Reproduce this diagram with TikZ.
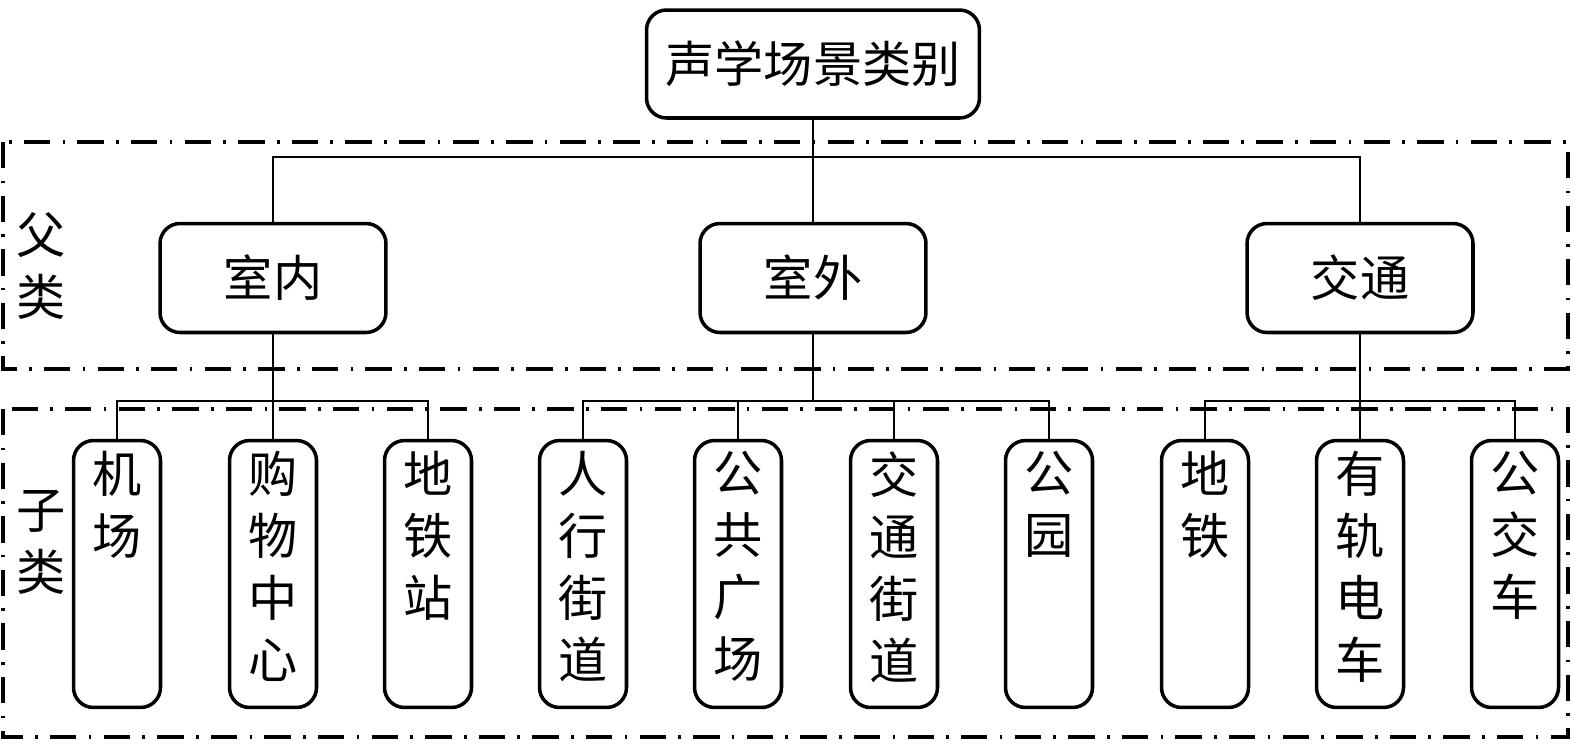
\documentclass[tikz,border=0pt]{standalone}
\usepackage{fontspec}
\newfontfamily\cjk{Noto Sans CJK SC}
\newcommand{\vtxt}[1]{\parbox[c][4.9cm][t]{1.5cm}{\centering #1}}
\begin{document}
\begin{tikzpicture}[x=0.02cm,y=-0.02cm,
    box/.style={draw,line width=2pt,rounded corners=0.4cm,inner sep=0pt,
      font=\cjk\fontsize{28}{35.3}\selectfont},
    topbox/.style={box,minimum width=6.66cm,minimum height=2.16cm},
    parent/.style={box,minimum width=4.52cm,minimum height=2.18cm},
    leaf/.style={box,minimum width=1.74cm,inner xsep=0pt,inner ysep=0.22cm},
    side/.style={align=center,inner sep=0pt,font=\cjk\fontsize{28}{35.3}\selectfont},
    group/.style={line width=2pt,dash pattern=on 15pt off 7pt on 1.5pt off 7pt},
    link/.style={line width=1.5pt}]
    \useasboundingbox (0,0) rectangle (1575,748);

    \draw[group] (3,142) rectangle (1568,369);
    \draw[group] (3,409) rectangle (1568,737);

    \node[side] (fu) at (41,266) {父\\类};
    \node[side] (zi) at (41,542) {子\\类};

    \node[topbox] (root) at (813,64) {声学场景类别};
    \node[parent] (p1) at (273,278) {室内};
    \node[parent] (p2) at (813,278) {室外};
    \node[parent] (p3) at (1360,278) {交通};

    \node[leaf] (c1) at (117,574) {\vtxt{机\\场}};
    \node[leaf] (c2) at (273,574) {\vtxt{购\\物\\中\\心}};
    \node[leaf] (c3) at (428,574) {\vtxt{地\\铁\\站}};
    \node[leaf] (c4) at (583,574) {\vtxt{人\\行\\街\\道}};
    \node[leaf] (c5) at (738,574) {\vtxt{公\\共\\广\\场}};
    \node[leaf] (c6) at (894,574) {\vtxt{交\\通\\街\\道}};
    \node[leaf] (c7) at (1049,574) {\vtxt{公\\园}};
    \node[leaf] (c8) at (1205,574) {\vtxt{地\\铁}};
    \node[leaf] (c9) at (1360,574) {\vtxt{有\\轨\\电\\车}};
    \node[leaf] (c10) at (1515,574) {\vtxt{公\\交\\车}};

    \coordinate (pbus) at (0,157);
    \coordinate (cbus) at (0,401);

    \draw[link] (root.south) -- (root.south |- pbus);
    \draw[link] (p1.north) |- (p3.north |- pbus) -- (p3.north);
    \draw[link] (p2.north) -- (p2.north |- pbus);

    \draw[link] (p1.south) -- (p1.south |- cbus);
    \draw[link] (c1.north) |- (c3.north |- cbus) -- (c3.north);
    \draw[link] (c2.north) -- (c2.north |- cbus);

    \draw[link] (p2.south) -- (p2.south |- cbus);
    \draw[link] (c4.north) |- (c7.north |- cbus) -- (c7.north);
    \draw[link] (c5.north) -- (c5.north |- cbus);
    \draw[link] (c6.north) -- (c6.north |- cbus);

    \draw[link] (p3.south) -- (p3.south |- cbus);
    \draw[link] (c8.north) |- (c10.north |- cbus) -- (c10.north);
    \draw[link] (c9.north) -- (c9.north |- cbus);
\end{tikzpicture}
\end{document}
